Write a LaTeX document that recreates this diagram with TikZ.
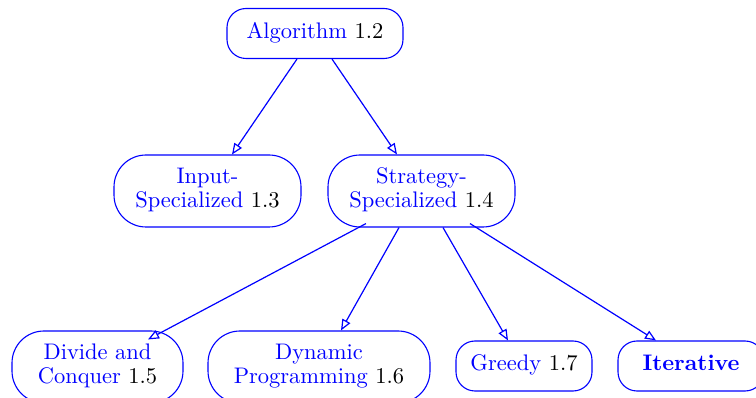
\documentclass[tikz,border=0pt]{standalone}
\usepackage{graphicx}
\usetikzlibrary{arrows.meta}
\newcommand{\mylbl}[1]{\scalebox{2.25}{\fontsize{10}{10.4}\selectfont\begin{tabular}{@{}c@{}}#1\end{tabular}}}
\begin{document}
\begin{tikzpicture}[x=1pt,y=-1pt,
  box/.style={draw=blue, line width=1.1pt, text=blue, align=center, inner sep=0pt},
  onebox/.style={box, rounded corners=19pt, minimum height=50pt},
  twobox/.style={box, rounded corners=32pt, minimum height=72pt},
  conn/.style={draw=blue, line width=1.2pt, -{Triangle[open, length=11pt, width=9pt]}}]
\useasboundingbox (0,0) rectangle (756,398);
\node[onebox, minimum width=176pt] (alg) at (315,33.5) {\mylbl{Algorithm \textcolor{black}{1.2}}};
\node[twobox, minimum width=187pt] (inp) at (207.5,191) {\mylbl{Input-\\Specialized \textcolor{black}{1.3}}};
\node[twobox, minimum width=187pt] (str) at (421.5,191) {\mylbl{Strategy-\\Specialized \textcolor{black}{1.4}}};
\node[twobox, minimum width=171pt] (dc) at (97.5,367) {\mylbl{Divide and\\Conquer \textcolor{black}{1.5}}};
\node[twobox, minimum width=222pt] (dp) at (319,367) {\mylbl{Dynamic\\Programming \textcolor{black}{1.6}}};
\node[onebox, minimum width=136pt] (gr) at (524,366) {\mylbl{Greedy \textcolor{black}{1.7}}};
\node[onebox, minimum width=146pt] (it) at (691,366) {\mylbl{\textbf{Iterative}}};
\draw[conn] ([xshift=-18pt]alg.south) -- ([xshift=24.5pt]inp.north);
\draw[conn] ([xshift=17pt]alg.south) -- ([xshift=-24.5pt]str.north);
\draw[conn] ([xshift=-55.5pt,yshift=4pt]str.south) -- ([xshift=50.5pt,yshift=-9pt]dc.north);
\draw[conn] ([xshift=-22.5pt]str.south) -- ([xshift=22pt]dp.north);
\draw[conn] ([xshift=21.5pt]str.south) -- ([xshift=-16pt]gr.north);
\draw[conn] ([xshift=48.5pt,yshift=4pt]str.south) -- ([xshift=-35pt]it.north);
\end{tikzpicture}
\end{document}
